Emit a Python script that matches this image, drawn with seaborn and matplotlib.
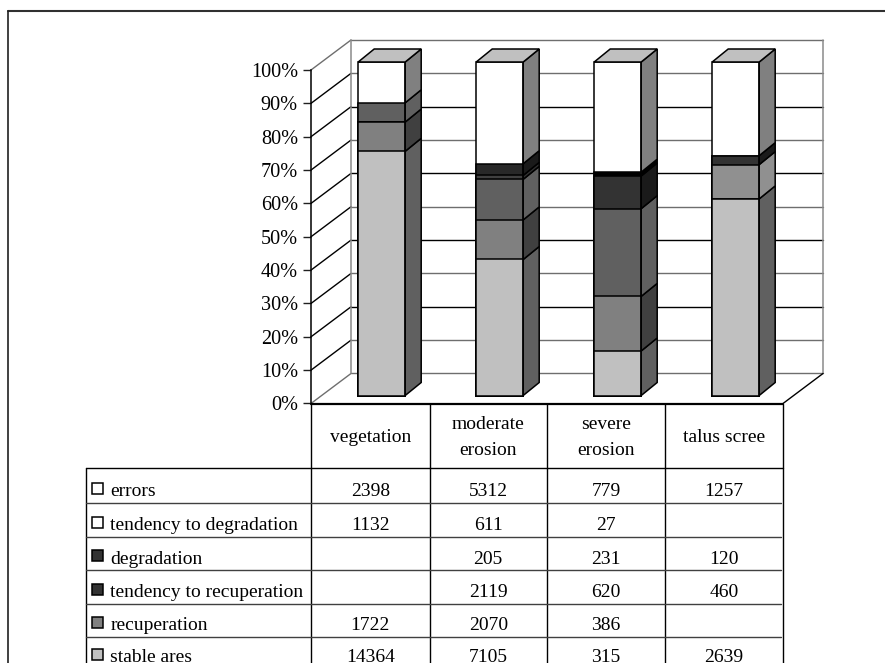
import numpy as np
import pandas as pd
import matplotlib
matplotlib.use("Agg")
import matplotlib.pyplot as plt
from matplotlib.patches import Polygon, Rectangle
from matplotlib.ticker import PercentFormatter
import seaborn as sns

# Areas per site, listed from the bottom of each stack upward; 0 marks a blank table cell
sites = ["vegetation", "moderate erosion", "severe erosion", "talus scree"]
site_headers = ["vegetation", "moderate\nerosion", "severe\nerosion", "talus scree"]
classes = ["stable ares", "recuperation", "tendency to recuperation",
           "degradation", "tendency to degradation", "errors"]
stable = [14364, 7105, 315, 2639]
recuperation = [1722, 2070, 386, 0]
tendency_recuperation = [0, 2119, 620, 460]
degradation = [0, 205, 231, 120]
tendency_degradation = [1132, 611, 27, 0]
errors = [2398, 5312, 779, 1257]

# Grey fill of each front face, by site and by stack level
front_vegetation = ["#c0c0c0", "#808080", "#606060", "#606060", "#606060", "#ffffff"]
front_moderate = ["#c0c0c0", "#808080", "#606060", "#404040", "#282828", "#ffffff"]
front_severe = ["#c0c0c0", "#808080", "#606060", "#333333", "#000000", "#ffffff"]
front_talus = ["#c0c0c0", "#909090", "#909090", "#333333", "#333333", "#ffffff"]
side_shade = {"#c0c0c0": "#606060", "#909090": "#909090", "#808080": "#404040",
              "#606060": "#606060", "#404040": "#303030", "#333333": "#1a1a1a",
              "#282828": "#1a1a1a", "#000000": "#000000", "#ffffff": "#808080"}
legend_swatches = ["#c0c0c0", "#808080", "#333333", "#333333", "#ffffff", "#ffffff"]

W, H = 885, 663
SERIF = "Liberation Serif"
FONT = 14
TICK_FONT = 14.6

sns.set_theme(style="white")
plt.rcParams["font.family"] = SERIF
fig = plt.figure(figsize=(W / 100, H / 100), dpi=100, facecolor="white")


def axes_from_pixels(left, top, right, bottom):
    return fig.add_axes([left / W, 1 - bottom / H, (right - left) / W, (bottom - top) / H])


# Front plane of the plot box, in pixels
BOX_L, BOX_R, BOX_T, BOX_B = 311.0, 783.0, 70.0, 403.5
PX_X = 4 / (BOX_R - BOX_L)      # categories per pixel
PX_Y = 100 / (BOX_B - BOX_T)    # percent per pixel

ax = axes_from_pixels(BOX_L, BOX_T, BOX_R, BOX_B)
ax.set_xlim(-0.5, 3.5)
ax.set_ylim(0, 100)
ax.set_xticks([])
ticks = np.arange(0, 101, 10)
ax.set_yticks(ticks)
ax.yaxis.set_major_formatter(PercentFormatter(100, decimals=0))
ax.tick_params(axis="y", left=True, length=5.8, width=1, color="#202020", pad=3.6,
               labelsize=TICK_FONT, labelcolor="black")
for name in ("top", "right", "bottom"):
    ax.spines[name].set_visible(False)
ax.spines["left"].set_color("black")
ax.spines["left"].set_linewidth(1.1)
ax.patch.set_alpha(0)

# Receding walls of the box: floor edges, side wall diagonals and back wall gridlines
WALL_DX, WALL_DY = 40 * PX_X, 30 * PX_Y
x0, x1 = -0.5, 3.5
for t in ticks:
    col = "black" if t in (20, 40, 60, 80) else "#6e6e6e"
    diag = "#6e6e6e" if t in (0, 100) else "black"
    ax.plot([x0, x0 + WALL_DX], [t, t + WALL_DY], color=diag, lw=1, clip_on=False, zorder=1)
    ax.plot([x0 + WALL_DX, x1 + WALL_DX], [t + WALL_DY] * 2, color=col, lw=1, clip_on=False, zorder=1)
for xv in (x0 + WALL_DX, x1 + WALL_DX):
    ax.plot([xv, xv], [WALL_DY, 100 + WALL_DY], color="#8a8a8a", lw=1.1, clip_on=False, zorder=1)
ax.plot([x1, x1 + WALL_DX], [0, WALL_DY], color="black", lw=1, clip_on=False, zorder=1)

# Columns stand slightly inside the box, so they get their own shifted axes
SHIFT_X, SHIFT_Y = 11.7, 8.0
ax_bars = axes_from_pixels(BOX_L + SHIFT_X, BOX_T - SHIFT_Y, BOX_R + SHIFT_X, BOX_B - SHIFT_Y)

table = pd.DataFrame(
    [stable, recuperation, tendency_recuperation, degradation, tendency_degradation, errors],
    index=classes, columns=sites)
share = table / table.sum() * 100
cumulative = share.cumsum()
fronts = dict(zip(sites, [front_vegetation, front_moderate, front_severe, front_talus]))

BAR_W = 47 * PX_X
# Tallest level first: each shorter stack level paints over the one before it
for level in reversed(range(len(classes))):
    frame = pd.DataFrame({"site": sites, "pct": cumulative.iloc[level].values})
    palette = {s: fronts[s][level] for s in sites}
    sns.barplot(data=frame, x="site", y="pct", hue="site", order=sites, hue_order=sites,
                palette=palette, saturation=1, width=BAR_W, errorbar=None, legend=False,
                edgecolor="black", linewidth=1.1, ax=ax_bars, zorder=3)
ax_bars.set_xlim(-0.5, 3.5)
ax_bars.set_ylim(0, 100)
ax_bars.axis("off")
for patch in ax_bars.patches:
    patch.set_clip_on(False)

# Side and top faces of the columns
DEPTH_X, DEPTH_Y = 16 * PX_X, 13 * PX_Y
for i, site in enumerate(sites):
    xr = i + BAR_W / 2
    xl = i - BAR_W / 2
    lower = 0.0
    for level in range(len(classes)):
        upper = cumulative[site].iloc[level]
        if upper - lower > 0:
            ax_bars.add_patch(Polygon(
                [(xr, lower), (xr + DEPTH_X, lower + DEPTH_Y),
                 (xr + DEPTH_X, upper + DEPTH_Y), (xr, upper)],
                closed=True, facecolor=side_shade[fronts[site][level]],
                edgecolor="black", lw=1.1, clip_on=False, zorder=3))
        lower = upper
    ax_bars.add_patch(Polygon(
        [(xl, 100), (xr, 100), (xr + DEPTH_X, 100 + DEPTH_Y), (xl + DEPTH_X, 100 + DEPTH_Y)],
        closed=True, facecolor="#c0c0c0", edgecolor="black", lw=1.1, clip_on=False, zorder=3))

# Page frame and data table, laid out in pixels
page = fig.add_axes([0, 0, 1, 1], zorder=5)
page.set_xlim(0, W)
page.set_ylim(H, 0)
page.axis("off")
page.patch.set_alpha(0)

page.plot([7.5, W], [11, 11], color="#303030", lw=1.5)
page.plot([7.5, 7.5], [11, H], color="#202020", lw=1.2)

TAB_L = 86.0
col_edges = [BOX_L, 429.5, 547.0, 665.0, BOX_R]
head_bottom = 468.0
row_bottoms = [503.0, 536.5, 570.0, 604.0, 637.0]

page.plot([BOX_L, BOX_R], [BOX_B, BOX_B], color="black", lw=1.6)
page.plot([TAB_L, BOX_R], [head_bottom, head_bottom], color="black", lw=1)
page.plot([TAB_L, TAB_L], [head_bottom, H], color="black", lw=1)
for xe in col_edges:
    page.plot([xe, xe], [BOX_B, H], color="black", lw=1)
for yb in row_bottoms:
    page.plot([TAB_L, BOX_R - 2], [yb, yb], color="#404040", lw=1)

for j, head in enumerate(site_headers):
    xc = (col_edges[j] + col_edges[j + 1]) / 2
    page.text(xc, 437.5, head, ha="center", va="center", fontsize=FONT, linespacing=1.68,
              color="black", family=SERIF)

baselines = [496.5, 530, 563.5, 597, 630.5, 662]
for r, name in enumerate(reversed(classes)):
    yb = baselines[r]
    page.text(110.5, yb, name, ha="left", va="baseline", fontsize=FONT, color="black",
              family=SERIF, clip_on=True)
    swatch = legend_swatches[len(classes) - 1 - r]
    page.add_patch(Rectangle((91.5, yb - 13.5), 11, 11, facecolor=swatch, edgecolor="black", lw=1.1))
    for j, site in enumerate(sites):
        value = table.loc[name, site]
        if value:
            xc = (col_edges[j] + col_edges[j + 1]) / 2
            page.text(xc, yb, str(value), ha="center", va="baseline", fontsize=FONT,
                      color="black", family=SERIF, clip_on=True)

fig.savefig("out.png", dpi=100, facecolor="white")
